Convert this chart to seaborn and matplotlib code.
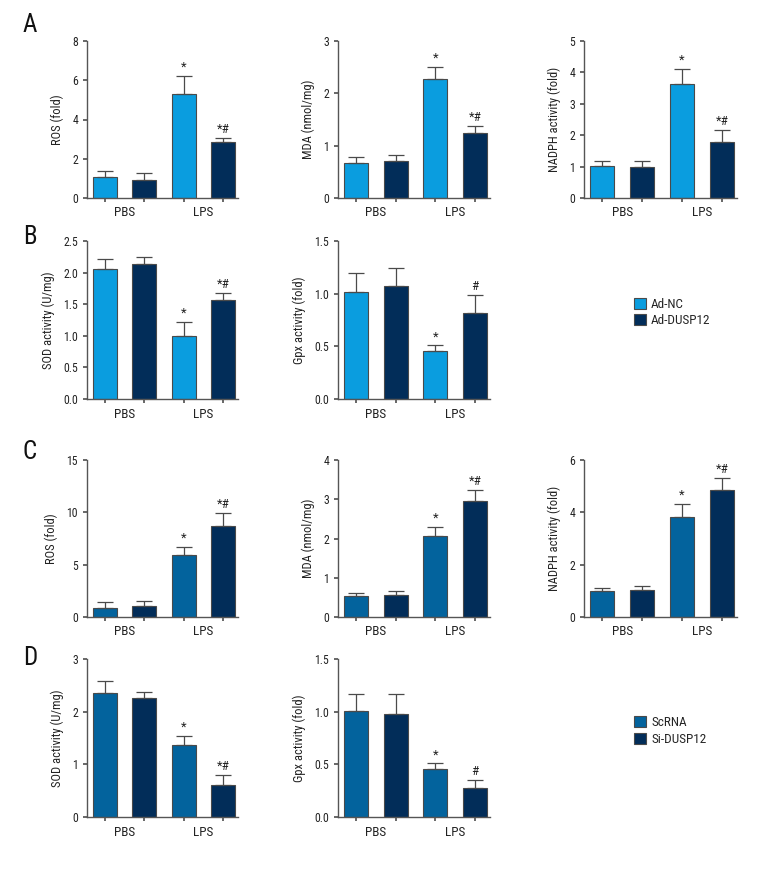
import numpy as np
import pandas as pd
import matplotlib
matplotlib.use("Agg")
import matplotlib.pyplot as plt
import seaborn as sns
from matplotlib import font_manager as fm
from matplotlib.patches import Patch

# ---------------- data ----------------
conditions = ["PBS", "LPS"]
groups_AB = ["Ad-NC", "Ad-DUSP12"]
groups_CD = ["ScRNA", "Si-DUSP12"]

# order of values: [PBS-g1, PBS-g2, LPS-g1, LPS-g2]
A_ros_mean = [1.08, 0.91, 5.31, 2.83]
A_ros_err = [0.32, 0.34, 0.93, 0.23]
A_mda_mean = [0.67, 0.70, 2.27, 1.24]
A_mda_err = [0.11, 0.12, 0.23, 0.13]
A_nadph_mean = [1.01, 0.99, 3.64, 1.77]
A_nadph_err = [0.17, 0.20, 0.48, 0.39]
B_sod_mean = [2.05, 2.14, 0.99, 1.57]
B_sod_err = [0.16, 0.11, 0.23, 0.10]
B_gpx_mean = [1.02, 1.07, 0.46, 0.82]
B_gpx_err = [0.18, 0.17, 0.05, 0.17]
C_ros_mean = [0.89, 1.02, 5.94, 8.68]
C_ros_err = [0.51, 0.54, 0.76, 1.25]
C_mda_mean = [0.54, 0.57, 2.06, 2.96]
C_mda_err = [0.07, 0.08, 0.24, 0.27]
C_nadph_mean = [1.00, 1.02, 3.82, 4.87]
C_nadph_err = [0.12, 0.18, 0.51, 0.43]
D_sod_mean = [2.36, 2.26, 1.36, 0.61]
D_sod_err = [0.23, 0.11, 0.18, 0.19]
D_gpx_mean = [1.01, 0.98, 0.46, 0.28]
D_gpx_err = [0.16, 0.19, 0.05, 0.07]

annotations_A_ros = ["", "", "*", "*#"]
annotations_A_mda = ["", "", "*", "*#"]
annotations_A_nadph = ["", "", "*", "*#"]
annotations_B_sod = ["", "", "*", "*#"]
annotations_B_gpx = ["", "", "*", "#"]
annotations_C_ros = ["", "", "*", "*#"]
annotations_C_mda = ["", "", "*", "*#"]
annotations_C_nadph = ["", "", "*", "*#"]
annotations_D_sod = ["", "", "*", "*#"]
annotations_D_gpx = ["", "", "*", "#"]

# ---------------- style ----------------
sns.set_theme(style="ticks")
avail = {f.name for f in fm.fontManager.ttflist}
fam = [f for f in ["Liberation Sans Narrow", "Roboto Condensed", "Open Sans Condensed"] if f in avail]
plt.rcParams["font.family"] = fam + ["DejaVu Sans"]
if not fam:
    plt.rcParams["font.stretch"] = "condensed"

GRAY = "#555555"
plt.rcParams.update({
    "axes.edgecolor": GRAY,
    "axes.linewidth": 1.0,
    "xtick.color": GRAY,
    "ytick.color": GRAY,
    "xtick.labelcolor": "#222222",
    "ytick.labelcolor": "#222222",
    "xtick.major.size": 3,
    "ytick.major.size": 3,
    "xtick.labelsize": 8.5,
    "ytick.labelsize": 8.5,
})

pal_AB = {"Ad-NC": "#0a9ddf", "Ad-DUSP12": "#022d59"}
pal_CD = {"ScRNA": "#03639d", "Si-DUSP12": "#022d59"}

fig = plt.figure(figsize=(7.8, 8.76), dpi=100)
W, H = 780, 876


def add_ax(left, top, right, bottom):
    return fig.add_axes([left / W, 1 - bottom / H, (right - left) / W, (bottom - top) / H])


def panel(ax, means, errs, groups, pal, ylabel, ymax, yticks, ann, fmt=None):
    df = pd.DataFrame({
        "cond": [c for c in conditions for _ in groups],
        "group": groups * len(conditions),
        "val": means,
    })
    sns.barplot(data=df, x="cond", y="val", hue="group", order=conditions,
                hue_order=groups, palette=pal, width=1.0, gap=0.39,
                edgecolor="#4a4a4a", linewidth=0.8, errorbar=None, ax=ax,
                saturation=1.0)
    bars = [p for p in ax.patches if p.get_height() > 0]
    bars = sorted(bars, key=lambda p: p.get_x())
    xs = [b.get_x() + b.get_width() / 2 for b in bars]
    ax.errorbar(xs, means, yerr=[np.zeros(len(errs)), errs], fmt="none",
                ecolor="#4a4a4a", elinewidth=0.9, capsize=5.5, capthick=0.9, zorder=1)
    for x, m, e, t in zip(xs, means, errs, ann):
        if t:
            ax.annotate(t, (x, m + e), xytext=(0, 1.5), textcoords="offset points",
                        ha="center", va="bottom", fontsize=9.5, color="#222222")
    ax.set_ylim(0, ymax)
    ax.set_yticks(yticks)
    if fmt:
        ax.set_yticklabels([fmt.format(v) for v in yticks])
    ax.set_xlim(-0.48, 1.44)
    ax.set_xticks(xs)
    ax.set_xticklabels([])
    for c, label in zip([0, 1], conditions):
        ax.text(c, -0.095, label, transform=ax.get_xaxis_transform(), ha="center",
                va="center", fontsize=9.5, color="#222222")
    ax.set_xlabel("")
    ax.set_ylabel(ylabel, fontsize=9, color="#222222", labelpad=6)
    sns.despine(ax=ax)
    leg = ax.get_legend()
    if leg is not None:
        leg.remove()


cols = [(87, 238), (338, 490), (584, 737)]
rows = [(41, 198), (241, 399), (460, 617), (659, 817)]

# Row A
ax = add_ax(cols[0][0], rows[0][0], cols[0][1], rows[0][1])
panel(ax, A_ros_mean, A_ros_err, groups_AB, pal_AB, "ROS (fold)", 8, [0, 2, 4, 6, 8], annotations_A_ros)
ax = add_ax(cols[1][0], rows[0][0], cols[1][1], rows[0][1])
panel(ax, A_mda_mean, A_mda_err, groups_AB, pal_AB, "MDA (nmol/mg)", 3, [0, 1, 2, 3], annotations_A_mda)
ax = add_ax(cols[2][0], rows[0][0], cols[2][1], rows[0][1])
panel(ax, A_nadph_mean, A_nadph_err, groups_AB, pal_AB, "NADPH activity (fold)", 5, [0, 1, 2, 3, 4, 5], annotations_A_nadph)

# Row B
ax = add_ax(cols[0][0], rows[1][0], cols[0][1], rows[1][1])
panel(ax, B_sod_mean, B_sod_err, groups_AB, pal_AB, "SOD activity (U/mg)", 2.5, [0, 0.5, 1.0, 1.5, 2.0, 2.5], annotations_B_sod, "{:.1f}")
ax = add_ax(cols[1][0], rows[1][0], cols[1][1], rows[1][1])
panel(ax, B_gpx_mean, B_gpx_err, groups_AB, pal_AB, "Gpx activity (fold)", 1.5, [0, 0.5, 1.0, 1.5], annotations_B_gpx, "{:.1f}")

# Row C
ax = add_ax(cols[0][0], rows[2][0], cols[0][1], rows[2][1])
panel(ax, C_ros_mean, C_ros_err, groups_CD, pal_CD, "ROS (fold)", 15, [0, 5, 10, 15], annotations_C_ros)
ax = add_ax(cols[1][0], rows[2][0], cols[1][1], rows[2][1])
panel(ax, C_mda_mean, C_mda_err, groups_CD, pal_CD, "MDA (nmol/mg)", 4, [0, 1, 2, 3, 4], annotations_C_mda)
ax = add_ax(cols[2][0], rows[2][0], cols[2][1], rows[2][1])
panel(ax, C_nadph_mean, C_nadph_err, groups_CD, pal_CD, "NADPH activity (fold)", 6, [0, 2, 4, 6], annotations_C_nadph)

# Row D
ax = add_ax(cols[0][0], rows[3][0], cols[0][1], rows[3][1])
panel(ax, D_sod_mean, D_sod_err, groups_CD, pal_CD, "SOD activity (U/mg)", 3, [0, 1, 2, 3], annotations_D_sod)
ax = add_ax(cols[1][0], rows[3][0], cols[1][1], rows[3][1])
panel(ax, D_gpx_mean, D_gpx_err, groups_CD, pal_CD, "Gpx activity (fold)", 1.5, [0, 0.5, 1.0, 1.5], annotations_D_gpx, "{:.1f}")

# Panel letters
for letter, ypx in zip(["A", "B", "C", "D"], [25, 237, 452, 658]):
    fig.text(30 / W, 1 - ypx / H, letter, fontsize=18, ha="center", va="center", color="#111111")

# Legends
for groups, pal, ypx in [(groups_AB, pal_AB, 312.5), (groups_CD, pal_CD, 731)]:
    handles = [Patch(facecolor=pal[g], edgecolor="#4a4a4a", linewidth=0.8, label=g) for g in groups]
    fig.legend(handles=handles, loc="center left", bbox_to_anchor=(634 / W, 1 - ypx / H),
               frameon=False, fontsize=9.5, handlelength=0.9, handleheight=0.9,
               handletextpad=0.4, labelspacing=0.25, borderpad=0, borderaxespad=0)

fig.savefig("out.png", dpi=100)
